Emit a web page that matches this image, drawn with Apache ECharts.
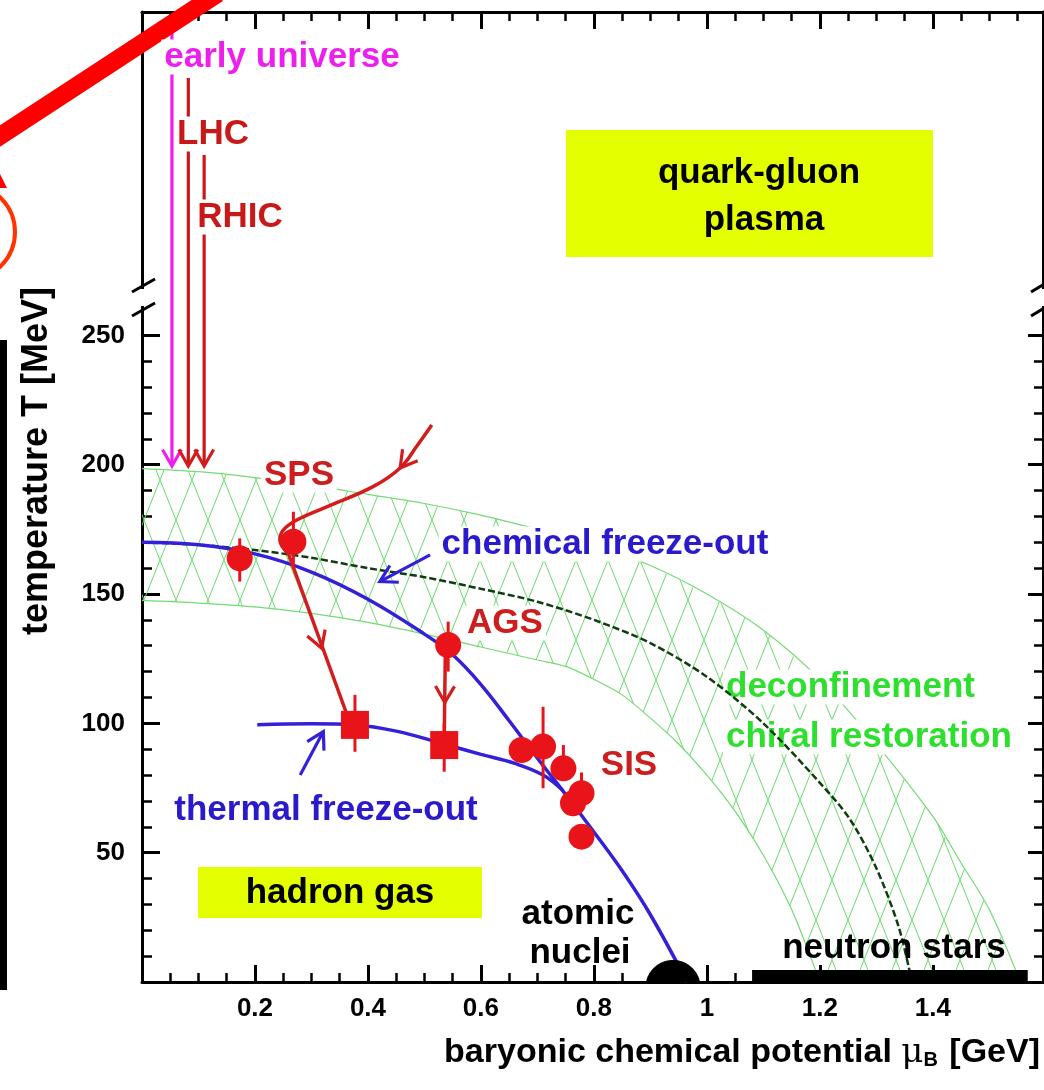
<!DOCTYPE html>
<html>
<head>
<meta charset="utf-8">
<script src="https://cdn.jsdelivr.net/npm/echarts@6/dist/echarts.min.js"></script>
<style>html,body{margin:0;padding:0;background:#fff;}#c{width:1044px;height:1090px;}</style>
</head>
<body>
<div id="c"></div>
<script>
// ---------------- data (mu_B in GeV, T in MeV) ----------------
const xTickValues = [0.2, 0.4, 0.6, 0.8, 1, 1.2, 1.4];
const yTickValues = [50, 100, 150, 200, 250];

const chemicalFreezeOut = [[0,170],[0.1,169],[0.2,165.5],[0.3,158.5],[0.4,148],[0.5,134.5],[0.55,126.5],[0.6,115],[0.65,101],[0.7,86.5],[0.75,72.5],[0.8,58],[0.85,43],[0.9,26],[0.965,0]];
const thermalFreezeOut = [[0.204,99.5],[0.3,99.8],[0.377,99.4],[0.45,97],[0.535,92],[0.6,88],[0.66,84.5],[0.71,80],[0.745,74]];
const phaseBoundary = [[0,170],[0.1,169],[0.2,167],[0.3,164],[0.4,160],[0.5,156.5],[0.6,152],[0.7,147],[0.8,140],[0.9,131],[1.0,118],[1.1,100],[1.2,77],[1.253,63],[1.3,44],[1.34,21],[1.363,0]];
const bandUpper = [[0,198.5],[0.1,197.3],[0.2,195],[0.3,192],[0.4,188.5],[0.5,185],[0.6,180.5],[0.7,175],[0.8,169],[0.9,161],[1.0,150],[1.1,136],[1.2,117],[1.3,92],[1.4,64],[1.45,46],[1.5,28],[1.555,0]];
const bandLower = [[0,147.5],[0.1,146.5],[0.2,145],[0.3,142.5],[0.4,139],[0.5,134.5],[0.6,129.5],[0.7,124.5],[0.75,122],[0.8,117],[0.85,111],[0.9,102],[0.95,92],[1.0,80],[1.05,66],[1.1,49],[1.15,28],[1.2,0]];

const chemicalPoints = [[0.173,163.8],[0.268,170.2],[0.542,130.3],[0.672,89.7],[0.71,91],[0.746,82.6],[0.763,69.1],[0.778,73],[0.778,56.2]];
const chemicalErrors = [[0.173,154.8,171.5],[0.268,160,181.8],[0.542,120,139.3],[0.71,74.9,106.4],[0.746,78,91.6],[0.778,68,81]];
const thermalPoints = [[0.377,99.4],[0.535,91.6]];
const thermalErrors = [[0.377,89,111],[0.535,81.3,100]];

const earlyUniverseArrow = [[0.053,368],[0.053,199.5]];
const lhcArrow = [[0.082,349.5],[0.082,199.5]];
const rhicArrow = [[0.110,319.7],[0.110,199.5]];
const spsCurve = [[0.513,215.3],[0.486,207],[0.457,198.7],[0.409,191.5],[0.327,183.7],[0.274,178.6],[0.25,174.7],[0.244,170.9],[0.259,165.7]];
const spsDrop = [[0.259,165.7],[0.362,103.9]];
const agsDrop = [[0.537,128],[0.535,94]];
const chemPointer = [[0.51,165.1],[0.421,154.8]];
const thermPointer = [[0.28,80],[0.321,96.8]];

// arrow heads: [tipMu, tipT, backMu, backT]
const magentaHeads = [[0.053,199.5,0.053,230]];
const redHeads = [[0.082,199.5,0.082,230],[0.110,199.5,0.110,230],[0.457,198.7,0.486,207],[0.318,129,0.259,165.7],[0.536,108,0.537,125]];
const blueHeads = [[0.421,154.8,0.51,165.1],[0.321,96.8,0.28,80]];

const atomicNucleus = [[0.94,0]];
const neutronStars = [[1.08,0,1.568]];

// ---------------- styles ----------------
const FONT = '"Liberation Sans", Arial, Helvetica, sans-serif';
const RED = '#d41c1c', PT_RED = '#e8141a', BLUE = '#3320d8', MAG = '#ee1fee', GREEN_TXT = '#2ee02e';
const XMAX = 1.595, YMAX = 375;

const pat = document.createElement('canvas');
pat.width = 32; pat.height = 80;
(function(){
  const g = pat.getContext('2d');
  g.strokeStyle = '#6ada6a'; g.lineWidth = 1;
  g.beginPath(); g.moveTo(0,0); g.lineTo(32,80); g.moveTo(32,0); g.lineTo(0,80); g.stroke();
})();

function headRender(color){
  return function(params, api){
    const tip = api.coord([api.value(0), api.value(1)]);
    const back = api.coord([api.value(2), api.value(3)]);
    let dx = tip[0]-back[0], dy = tip[1]-back[1];
    const L = Math.hypot(dx,dy) || 1; dx/=L; dy/=L;
    const len = 19, a = 30*Math.PI/180, c = Math.cos(a), s = Math.sin(a);
    const bx = -dx, by = -dy;
    const p1 = [tip[0]+len*(bx*c-by*s), tip[1]+len*(bx*s+by*c)];
    const p2 = [tip[0]+len*(bx*c+by*s), tip[1]+len*(-bx*s+by*c)];
    return {type:'polyline', shape:{points:[p1,tip,p2]}, style:{stroke:color, lineWidth:3.2, fill:null, lineJoin:'miter'}};
  };
}
function errRender(params, api){
  const a = api.coord([api.value(0), api.value(1)]);
  const b = api.coord([api.value(0), api.value(2)]);
  return {type:'line', shape:{x1:a[0],y1:a[1],x2:b[0],y2:b[1]}, style:{stroke:PT_RED, lineWidth:3}};
}
function lineSeries(data, color, width, z, extra){
  return Object.assign({type:'line', xAxisIndex:0, yAxisIndex:0, data, symbol:'none', z, silent:true,
    lineStyle:{color, width}, animation:false}, extra||{});
}

const axisCommon = {
  axisLine:{show:true, lineStyle:{color:'#000', width:3}},
  splitLine:{show:false}, minorSplitLine:{show:false}
};

const option = {
  animation:false,
  backgroundColor:'#fff',
  grid:[
    {left:142, right:1, top:12, bottom:108, outerBoundsMode:'none', containLabel:false},
    {left:142, right:1, top:335.33, bottom:108, outerBoundsMode:'none', containLabel:false},
    {left:142, right:1, top:12, bottom:754.67, outerBoundsMode:'none', containLabel:false}
  ],
  xAxis:[
    {gridIndex:0, type:'value', min:0, max:XMAX, show:false},
    Object.assign({gridIndex:1, type:'value', position:'bottom', min:0, max:XMAX, interval:0.2,
      axisTick:{show:true, inside:true, length:17, lineStyle:{color:'#000', width:3}},
      minorTick:{show:true, splitNumber:4, length:9, lineStyle:{color:'#000', width:2.5}},
      axisLabel:{show:true, margin:14, color:'#000', fontSize:26, fontWeight:'bold', fontFamily:FONT,
        formatter:function(v){ return (v>0.01 && v<1.41) ? String(+v.toFixed(2)) : ''; }}
    }, axisCommon),
    Object.assign({gridIndex:2, type:'value', position:'top', min:0, max:XMAX, interval:0.2,
      axisTick:{show:true, inside:true, length:17, lineStyle:{color:'#000', width:3}},
      minorTick:{show:true, splitNumber:4, length:9, lineStyle:{color:'#000', width:2.5}},
      axisLabel:{show:false}
    }, axisCommon)
  ],
  yAxis:[
    {gridIndex:0, type:'value', min:0, max:YMAX, show:false},
    Object.assign({gridIndex:1, type:'value', position:'left', min:0, max:250, interval:50,
      axisTick:{show:true, inside:true, length:18, lineStyle:{color:'#000', width:3}},
      minorTick:{show:true, splitNumber:5, length:10, lineStyle:{color:'#000', width:2.5}},
      axisLabel:{show:true, margin:17, color:'#000', fontSize:26, fontWeight:'bold', fontFamily:FONT,
        formatter:function(v){ return yTickValues.indexOf(v) >= 0 ? String(v) : ''; }}
    }, axisCommon),
    Object.assign({gridIndex:1, type:'value', position:'right', min:0, max:250, interval:50,
      axisTick:{show:true, inside:true, length:15, lineStyle:{color:'#000', width:3}},
      minorTick:{show:true, splitNumber:5, length:9, lineStyle:{color:'#000', width:2.5}},
      axisLabel:{show:false}
    }, axisCommon),
    Object.assign({gridIndex:2, type:'value', position:'left', min:250, max:YMAX,
      axisTick:{show:false}, minorTick:{show:false}, axisLabel:{show:false}}, axisCommon),
    Object.assign({gridIndex:2, type:'value', position:'right', min:250, max:YMAX,
      axisTick:{show:false}, minorTick:{show:false}, axisLabel:{show:false}}, axisCommon)
  ],
  series:[
    // hatched band
    {type:'custom', xAxisIndex:0, yAxisIndex:0, z:1, silent:true, data:[[0,0]],
      renderItem:function(params, api){
        const pts = bandUpper.map(p=>api.coord(p)).concat(bandLower.slice().reverse().map(p=>api.coord(p)));
        return {type:'polygon', shape:{points:pts}, style:{fill:{image:pat, repeat:'repeat'}, stroke:null}};
      }},
    lineSeries(bandUpper, '#74da74', 1.2, 1.2, {smooth:0.3}),
    lineSeries(bandLower, '#74da74', 1.2, 1.2, {smooth:0.3}),
    lineSeries(phaseBoundary, '#0f3d0f', 2.5, 3, {smooth:0.3, lineStyle:{color:'#0f3d0f', width:2.5, type:[7,3]}}),
    lineSeries(chemicalFreezeOut, BLUE, 3.5, 4, {smooth:0.4}),
    lineSeries(thermalFreezeOut, BLUE, 3.5, 4, {smooth:0.4}),
    lineSeries(earlyUniverseArrow, MAG, 3.2, 4),
    lineSeries(lhcArrow, '#c81818', 3.2, 4),
    lineSeries(rhicArrow, '#c81818', 3.2, 4),
    lineSeries(spsCurve, RED, 3.5, 5, {smooth:0.4}),
    lineSeries(spsDrop, RED, 3.5, 5),
    lineSeries(agsDrop, RED, 3.5, 5),
    lineSeries(chemPointer, BLUE, 3.2, 5),
    lineSeries(thermPointer, BLUE, 3.2, 5),
    {type:'custom', xAxisIndex:0, yAxisIndex:0, z:5, silent:true, data:magentaHeads, renderItem:headRender(MAG)},
    {type:'custom', xAxisIndex:0, yAxisIndex:0, z:5, silent:true, data:redHeads, renderItem:headRender(RED)},
    {type:'custom', xAxisIndex:0, yAxisIndex:0, z:5, silent:true, data:blueHeads, renderItem:headRender(BLUE)},
    {type:'custom', xAxisIndex:0, yAxisIndex:0, z:6, silent:true, data:chemicalErrors, renderItem:errRender},
    {type:'custom', xAxisIndex:0, yAxisIndex:0, z:6, silent:true, data:thermalErrors, renderItem:errRender},
    {type:'scatter', xAxisIndex:0, yAxisIndex:0, z:7, silent:true, data:chemicalPoints, symbol:'circle', symbolSize:26, itemStyle:{color:PT_RED, opacity:1}},
    {type:'scatter', xAxisIndex:0, yAxisIndex:0, z:7, silent:true, data:thermalPoints, symbol:'rect', symbolSize:28, itemStyle:{color:PT_RED, opacity:1}},
    // atomic nuclei (circle cut by the axis)
    {type:'custom', xAxisIndex:0, yAxisIndex:0, z:8, silent:true, data:atomicNucleus,
      renderItem:function(params, api){
        const c = api.coord([api.value(0), api.value(1)]);
        const R = 27.6, d = 5.6, al = Math.asin(d/R), pts = [];
        for (let i=0;i<=40;i++){ const th = Math.PI+al + (Math.PI-2*al)*i/40; pts.push([c[0]+R*Math.cos(th), c[1]+d+R*Math.sin(th)]); }
        return {type:'polygon', shape:{points:pts}, style:{fill:'#000'}};
      }},
    // neutron stars bar
    {type:'custom', xAxisIndex:0, yAxisIndex:0, z:8, silent:true, data:neutronStars, encode:{x:[0,2], y:1},
      renderItem:function(params, api){
        const a = api.coord([api.value(0), api.value(1)]);
        const b = api.coord([api.value(2), api.value(1)]);
        return {type:'rect', shape:{x:a[0], y:a[1]-12, width:b[0]-a[0], height:12}, style:{fill:'#000'}};
      }}
  ]
};

function txt(text, x, y, color, o){
  o = o || {};
  return {type:'text', x, y, z:o.z||100, rotation:o.rotation||0,
    style:{text, fill:color, font:'bold '+(o.size||35)+'px '+FONT,
      align:o.align||'center', verticalAlign:'middle', textAlign:o.align||'center', textVerticalAlign:'middle',
      backgroundColor:o.bg===false?null:'#fff', padding:o.bg===false?0:[0,3], rich:o.rich}};
}

option.graphic = {elements:[
  // scanned-page artefacts at the left edge
  {type:'line', z:100, shape:{x1:-10, y1:142.5, x2:218, y2:-6.5}, style:{stroke:'#ff0000', lineWidth:18}},
  {type:'polygon', z:100, shape:{points:[[0,188],[7,188],[0,174]]}, style:{fill:'#ff0000'}},
  {type:'arc', z:100, shape:{cx:-33, cy:232, r:48, startAngle:-Math.PI/2, endAngle:Math.PI/2}, style:{stroke:'#ff3300', lineWidth:4, fill:null}},
  {type:'rect', z:100, shape:{x:0, y:340, width:7, height:650}, style:{fill:'#000'}},
  // axis breaks
  {type:'rect', z:90, shape:{x:133, y:289, width:20, height:17}, style:{fill:'#fff'}},
  {type:'rect', z:90, shape:{x:1034, y:289, width:10, height:17}, style:{fill:'#fff'}},
  {type:'line', z:91, shape:{x1:132, y1:292, x2:155, y2:279}, style:{stroke:'#000', lineWidth:3}},
  {type:'line', z:91, shape:{x1:132, y1:316, x2:155, y2:303}, style:{stroke:'#000', lineWidth:3}},
  {type:'line', z:91, shape:{x1:1031, y1:292, x2:1046, y2:283}, style:{stroke:'#000', lineWidth:3}},
  {type:'line', z:91, shape:{x1:1031, y1:316, x2:1046, y2:307}, style:{stroke:'#000', lineWidth:3}},
  // yellow boxes
  {type:'rect', z:50, shape:{x:566, y:130, width:367, height:127}, style:{fill:'#e4ff00'}},
  {type:'rect', z:50, shape:{x:198, y:867, width:284, height:51}, style:{fill:'#e4ff00'}},
  txt('quark-gluon', 759, 173, '#000', {bg:false}),
  txt('plasma', 764, 220, '#000', {bg:false}),
  txt('hadron gas', 340, 893, '#000', {bg:false}),
  // labels
  txt('early universe', 282, 57, MAG),
  txt('LHC', 213, 134, '#c81818'),
  txt('RHIC', 240, 217, '#c81818'),
  txt('SPS', 299, 475, '#cc1e1e'),
  txt('AGS', 505, 623, '#cc1e1e'),
  txt('SIS', 629, 765, '#cc1e1e'),
  txt('chemical freeze-out', 605, 544, '#2a1acc'),
  txt('thermal freeze-out', 326, 810, '#2a1acc'),
  txt('deconfinement', 723, 687, GREEN_TXT, {align:'left', z:2}),
  txt('chiral restoration', 723, 737, GREEN_TXT, {align:'left', z:2}),
  txt('atomic', 578, 914, '#000', {bg:false}),
  txt('nuclei', 580, 953, '#000', {bg:false}),
  txt('neutron stars', 894, 948, '#000', {bg:false}),
  // axis titles
  txt('temperature T [MeV]', 37, 461, '#000', {bg:false, size:36, rotation:Math.PI/2}),
  txt('baryonic chemical potential {mu|μ}{sub|B} [GeV]', 1040, 1053, '#000', {bg:false, size:34, align:'right',
    rich:{mu:{font:'normal 34px "DejaVu Serif", serif', fill:'#000'}, sub:{font:'bold 20px '+FONT, fill:'#000', padding:[14,2,0,0]}}})
]};

const chart = echarts.init(document.getElementById('c'));
chart.setOption(option);
</script>
</body>
</html>
